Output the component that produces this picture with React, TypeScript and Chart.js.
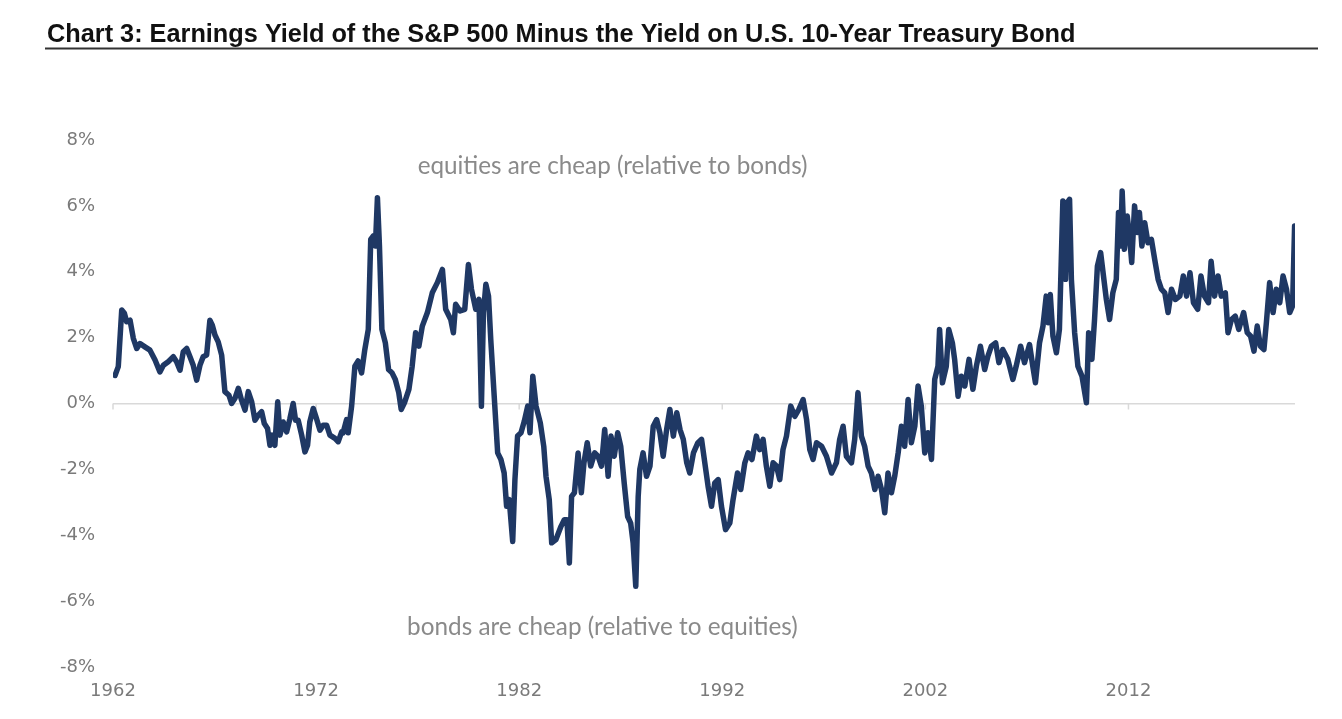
import React, { useEffect, useRef } from "react";
import { Chart, registerables } from "chart.js";

Chart.register(...registerables);

const TITLE = "Chart 3: Earnings Yield of the S&P 500 Minus the Yield on U.S. 10-Year Treasury Bond";
const NOTE_TOP = "equities are cheap (relative to bonds)";
const NOTE_BOTTOM = "bonds are cheap (relative to equities)";

const tickYears = [1962, 1972, 1982, 1992, 2002, 2012];
const yTickValues = [-8, -6, -4, -2, 0, 2, 4, 6, 8];

// Earnings yield of S&P 500 minus 10-year Treasury yield (percentage points)
const years = [
  1962.1, 1962.26, 1962.43, 1962.56, 1962.67, 1962.84, 1963.0, 1963.17, 1963.33, 1963.57, 1963.82,
  1964.07, 1964.31, 1964.48, 1964.72, 1964.97, 1965.13, 1965.3, 1965.46, 1965.63, 1965.79, 1965.95,
  1966.12, 1966.28, 1966.44, 1966.61, 1966.77, 1966.89, 1967.02, 1967.18, 1967.35, 1967.51, 1967.71,
  1967.84, 1968.0, 1968.17, 1968.33, 1968.5, 1968.66, 1968.83, 1968.99, 1969.15, 1969.32, 1969.45,
  1969.61, 1969.73, 1969.84, 1969.97, 1970.11, 1970.22, 1970.38, 1970.55, 1970.71, 1970.87, 1970.99,
  1971.12, 1971.29, 1971.45, 1971.58, 1971.69, 1971.86, 1972.02, 1972.19, 1972.35, 1972.52, 1972.68,
  1972.93, 1973.09, 1973.26, 1973.33, 1973.5, 1973.58, 1973.75, 1973.91, 1974.07, 1974.24, 1974.4,
  1974.57, 1974.69, 1974.82, 1974.92, 1975.02, 1975.12, 1975.24, 1975.41, 1975.57, 1975.74, 1975.9,
  1976.07, 1976.19, 1976.35, 1976.57, 1976.73, 1976.9, 1977.06, 1977.23, 1977.48, 1977.72, 1977.97,
  1978.22, 1978.38, 1978.63, 1978.76, 1978.87, 1979.09, 1979.32, 1979.5, 1979.65, 1979.86, 1980.02,
  1980.14, 1980.24, 1980.36, 1980.49, 1980.6, 1980.77, 1980.94, 1981.1, 1981.26, 1981.38, 1981.51,
  1981.68, 1981.79, 1981.92, 1982.09, 1982.25, 1982.42, 1982.53, 1982.67, 1982.83, 1983.04, 1983.21,
  1983.32, 1983.48, 1983.6, 1983.81, 1984.06, 1984.22, 1984.35, 1984.47, 1984.58, 1984.72, 1984.9,
  1985.06, 1985.19, 1985.35, 1985.52, 1985.72, 1985.88, 1986.05, 1986.21, 1986.38, 1986.52, 1986.68,
  1986.85, 1987.0, 1987.17, 1987.34, 1987.49, 1987.61, 1987.74, 1987.86, 1987.94, 1988.1, 1988.27,
  1988.44, 1988.6, 1988.77, 1988.93, 1989.09, 1989.26, 1989.42, 1989.59, 1989.76, 1989.92, 1990.08,
  1990.25, 1990.4, 1990.58, 1990.8, 1990.98, 1991.14, 1991.3, 1991.47, 1991.63, 1991.8, 1991.96,
  1992.16, 1992.37, 1992.53, 1992.75, 1992.91, 1993.11, 1993.27, 1993.46, 1993.68, 1993.84, 1994.01,
  1994.17, 1994.34, 1994.5, 1994.67, 1994.83, 1994.99, 1995.16, 1995.37, 1995.57, 1995.77, 1995.98,
  1996.15, 1996.31, 1996.47, 1996.64, 1996.89, 1997.13, 1997.38, 1997.62, 1997.78, 1997.95, 1998.11,
  1998.36, 1998.52, 1998.68, 1998.85, 1999.01, 1999.18, 1999.34, 1999.51, 1999.67, 1999.84, 2000.0,
  2000.16, 2000.33, 2000.49, 2000.66, 2000.82, 2000.98, 2001.15, 2001.31, 2001.48, 2001.64, 2001.8,
  2001.97, 2002.13, 2002.3, 2002.46, 2002.62, 2002.7, 2002.84, 2003.03, 2003.15, 2003.33, 2003.44,
  2003.61, 2003.77, 2003.94, 2004.15, 2004.34, 2004.51, 2004.71, 2004.92, 2005.08, 2005.25, 2005.46,
  2005.62, 2005.81, 2006.06, 2006.31, 2006.47, 2006.69, 2006.88, 2007.13, 2007.29, 2007.42, 2007.62,
  2007.79, 2007.95, 2008.05, 2008.15, 2008.28, 2008.45, 2008.6, 2008.77, 2008.9, 2008.99, 2009.1,
  2009.19, 2009.35, 2009.51, 2009.71, 2009.93, 2010.04, 2010.2, 2010.33, 2010.47, 2010.63, 2010.79,
  2010.91, 2011.07, 2011.23, 2011.4, 2011.51, 2011.61, 2011.69, 2011.8, 2011.94, 2012.05, 2012.16,
  2012.3, 2012.43, 2012.54, 2012.66, 2012.8, 2012.96, 2013.13, 2013.29, 2013.46, 2013.62, 2013.79,
  2013.95, 2014.12, 2014.31, 2014.53, 2014.7, 2014.86, 2015.03, 2015.2, 2015.41, 2015.57, 2015.74,
  2015.94, 2016.07, 2016.24, 2016.41, 2016.57, 2016.77, 2016.9, 2017.07, 2017.26, 2017.43, 2017.67,
  2017.85, 2018.01, 2018.18, 2018.34, 2018.5, 2018.67, 2018.79, 2018.95, 2019.12, 2019.28, 2019.45,
  2019.61, 2019.78, 2019.94, 2020.08, 2020.18,
];

const spread = [
  0.85, 1.12, 2.84, 2.74, 2.48, 2.53, 1.98, 1.67, 1.82, 1.72, 1.62,
  1.32, 0.96, 1.16, 1.27, 1.42, 1.27, 1.01, 1.57, 1.67, 1.42, 1.16,
  0.71, 1.16, 1.42, 1.47, 2.53, 2.38, 2.08, 1.87, 1.47, 0.36, 0.25,
  0.0, 0.15, 0.46, 0.1, -0.2, 0.36, 0.05, -0.51, -0.36, -0.25, -0.61,
  -0.76, -1.27, -0.96, -1.27, 0.05, -0.96, -0.56, -0.86, -0.46, 0.0, -0.51,
  -0.51, -0.96, -1.47, -1.27, -0.56, -0.15, -0.46, -0.81, -0.66, -0.66, -0.96,
  -1.06, -1.16, -0.86, -0.89, -0.49, -0.89, -0.08, 1.13, 1.29, 0.93, 1.64,
  2.25, 4.98, 5.09, 4.78, 6.25, 4.78, 2.25, 1.84, 1.03, 0.93, 0.73,
  0.33, -0.18, 0.02, 0.43, 1.13, 2.15, 1.74, 2.35, 2.76, 3.36, 3.67,
  4.07, 2.86, 2.55, 2.15, 3.01, 2.81, 2.86, 4.22, 3.47, 2.86, 3.16,
  -0.08, 2.76, 3.62, 3.26, 1.95, 0.22, -1.5, -1.7, -2.11, -3.12, -2.92,
  -4.19, -2.31, -0.99, -0.89, -0.54, -0.08, -0.89, 0.83, -0.08, -0.59, -1.3,
  -2.21, -2.92, -4.23, -4.13, -3.73, -3.53, -3.53, -4.84, -2.82, -2.71, -1.5,
  -2.71, -1.8, -1.19, -1.9, -1.5, -1.6, -1.9, -0.79, -2.21, -0.99, -1.6,
  -0.89, -1.3, -2.41, -3.43, -3.63, -4.23, -5.55, -2.82, -2.0, -1.5, -2.21,
  -1.9, -0.69, -0.49, -0.89, -1.6, -0.79, -0.18, -0.99, -0.28, -0.79, -1.09,
  -1.8, -2.11, -1.5, -1.19, -1.09, -1.8, -2.51, -3.12, -2.41, -2.31, -3.12,
  -3.83, -3.63, -2.92, -2.11, -2.61, -1.8, -1.5, -1.7, -0.99, -1.4, -1.09,
  -1.9, -2.51, -1.8, -1.9, -2.31, -1.4, -0.99, -0.08, -0.39, -0.18, 0.12,
  -0.49, -1.4, -1.7, -1.19, -1.3, -1.6, -2.11, -1.8, -1.09, -0.69, -1.6,
  -1.8, -1.09, 0.33, -0.99, -1.3, -1.9, -2.11, -2.61, -2.21, -2.61, -3.32,
  -2.11, -2.71, -2.21, -1.5, -0.69, -1.3, 0.12, -1.19, -0.69, 0.53, -0.08,
  -1.5, -0.89, -1.7, 0.73, 1.13, 2.25, 0.63, 1.13, 2.25, 1.84, 1.34,
  0.22, 0.83, 0.53, 1.34, 0.43, 1.13, 1.74, 1.03, 1.44, 1.74, 1.84,
  1.24, 1.64, 1.34, 0.73, 1.13, 1.74, 1.24, 1.79, 1.13, 0.63, 1.84,
  2.35, 3.26, 2.45, 3.31, 2.05, 1.54, 2.25, 6.15, 3.77, 6.1, 6.2,
  3.77, 2.15, 1.13, 0.83, 0.02, 2.15, 1.34, 2.55, 4.17, 4.58, 3.77,
  3.16, 2.55, 3.36, 3.77, 5.8, 4.78, 6.45, 4.68, 5.69, 5.09, 4.28,
  6.0, 5.19, 5.8, 4.78, 5.49, 4.88, 4.98, 4.38, 3.77, 3.47, 3.36,
  2.76, 3.47, 3.16, 3.26, 3.87, 3.26, 3.97, 3.06, 2.86, 3.87, 3.26,
  3.06, 4.32, 3.26, 3.87, 3.26, 3.36, 2.15, 2.55, 2.65, 2.25, 2.76,
  2.15, 2.05, 1.59, 2.35, 1.74, 1.64, 2.45, 3.67, 2.76, 3.47, 3.06,
  3.87, 3.47, 2.76, 2.96, 5.39,
];

const LINE_COLOR = "#1F3864";
const GRAY_TEXT = "#7a7a7a";
const AXIS_GRAY = "#d9d9d9";

function fitFont(ctx: CanvasRenderingContext2D, text: string, weight: string, family: string, base: number, target: number) {
  ctx.font = `${weight} ${base}px ${family}`;
  const w = ctx.measureText(text).width;
  const size = base * target / w;
  ctx.font = `${weight} ${size.toFixed(2)}px ${family}`;
}

const decorPlugin = {
  id: "decor",
  beforeDatasetsDraw(chart: any) {
    const { ctx, scales } = chart;
    const xs = scales.x;
    const ys = scales.y;
    const y0 = ys.getPixelForValue(0);
    ctx.save();
    ctx.strokeStyle = AXIS_GRAY;
    ctx.lineWidth = 1.5;
    tickYears.forEach((v) => {
      const px = xs.getPixelForValue(v);
      ctx.beginPath();
      ctx.moveTo(px, y0);
      ctx.lineTo(px, y0 + 6);
      ctx.stroke();
    });
    ctx.restore();
  },
  afterDraw(chart: any) {
    const { ctx, scales } = chart;
    const xs = scales.x;
    const ys = scales.y;
    ctx.save();
    // Title
    fitFont(ctx, TITLE, "bold", "'Liberation Sans', Arial, sans-serif", 22, 1029);
    ctx.fillStyle = "#111111";
    ctx.textAlign = "left";
    ctx.textBaseline = "alphabetic";
    ctx.fillText(TITLE, 47, 42);
    // underline
    ctx.strokeStyle = "#333333";
    ctx.lineWidth = 2;
    ctx.beginPath();
    ctx.moveTo(45, 48.5);
    ctx.lineTo(1318, 48.5);
    ctx.stroke();
    // Notes
    ctx.fillStyle = "#8a8a8a";
    ctx.textAlign = "center";
    ctx.textBaseline = "middle";
    fitFont(ctx, NOTE_TOP, "normal", "Lato, 'Open Sans', sans-serif", 20, 390);
    ctx.fillText(NOTE_TOP, xs.getPixelForValue(1986.6), ys.getPixelForValue(7.2));
    fitFont(ctx, NOTE_BOTTOM, "normal", "Lato, 'Open Sans', sans-serif", 20, 391);
    ctx.fillText(NOTE_BOTTOM, xs.getPixelForValue(1986.1), ys.getPixelForValue(-6.78));
    ctx.restore();
  },
};

export default function App() {
  const canvasRef = useRef<HTMLCanvasElement | null>(null);

  useEffect(() => {
    const canvas = canvasRef.current;
    if (!canvas) return;
    const chart = new Chart(canvas, {
      type: "line",
      data: {
        datasets: [
          {
            label: "Earnings yield minus 10-year Treasury yield",
            data: years.map((x, i) => ({ x, y: spread[i] })),
            borderColor: LINE_COLOR,
            backgroundColor: LINE_COLOR,
            borderWidth: 5.5,
            pointRadius: 0,
            tension: 0,
            borderJoinStyle: "round",
            borderCapStyle: "round",
            fill: false,
          },
        ],
      },
      options: {
        animation: false,
        responsive: true,
        maintainAspectRatio: false,
        layout: { padding: { top: 140, right: 47, left: 0, bottom: 0 } },
        plugins: {
          legend: { display: false },
          tooltip: { enabled: false },
          title: { display: false },
        },
        scales: {
          x: {
            type: "linear",
            min: 1962,
            max: 2020.2,
            afterBuildTicks: (scale: any) => {
              scale.ticks = tickYears.map((v) => ({ value: v }));
            },
            afterFit: (scale: any) => {
              scale.height = 52;
            },
            grid: { display: false, drawTicks: false },
            border: { display: false },
            ticks: {
              autoSkip: false,
              maxRotation: 0,
              padding: 14,
              color: GRAY_TEXT,
              font: { family: "'DejaVu Sans', sans-serif", size: 18 },
              callback: (v: any) => String(v),
            },
          },
          y: {
            type: "linear",
            min: -8,
            max: 8,
            afterBuildTicks: (scale: any) => {
              scale.ticks = yTickValues.map((v) => ({ value: v }));
            },
            afterFit: (scale: any) => {
              scale.width = 113;
            },
            grid: {
              drawTicks: false,
              color: (c: any) => (c.tick && c.tick.value === 0 ? AXIS_GRAY : "rgba(0,0,0,0)"),
              lineWidth: 1.5,
            },
            border: { display: false },
            ticks: {
              padding: 18,
              color: GRAY_TEXT,
              font: { family: "'DejaVu Sans', sans-serif", size: 18 },
              callback: (v: any) => `${v}%`,
            },
          },
        },
      },
      plugins: [decorPlugin],
    });
    return () => chart.destroy();
  }, []);

  return (
    <div style={{ position: "absolute", left: 0, top: 0, width: 1342, height: 719, background: "#ffffff" }}>
      <canvas ref={canvasRef} />
    </div>
  );
}
